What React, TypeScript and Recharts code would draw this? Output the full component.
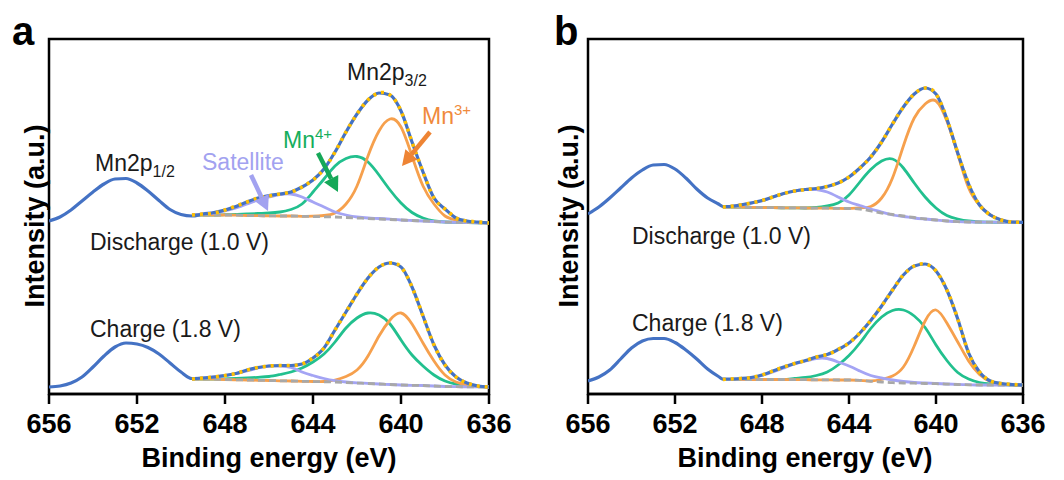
import React from 'react';
import { LineChart, Line, XAxis, YAxis, ReferenceArea } from 'recharts';

const FONT = 'Arial, "Liberation Sans", sans-serif';

// x axis
const energyTicks = [656, 652, 648, 644, 640, 636];

// binding energy grids (eV)
const rawEnergyA = [
  656, 655.5, 655, 654.5, 654, 653.5, 653, 652.5, 652, 651.5, 651, 650.5, 650,
  649.5, 649, 648.5, 648, 647.5, 647, 646.5, 646, 645.5, 645, 644.5, 644, 643.5, 643,
  642.5, 642, 641.5, 641, 640.5, 640, 639.5, 639, 638.5, 638, 637.5, 637, 636.5, 636,
];
const fitEnergyA = [
  649.5, 649, 648.5, 648, 647.5, 647, 646.5, 646, 645.5, 645, 644.5, 644, 643.5, 643,
  642.5, 642, 641.5, 641, 640.5, 640, 639.5, 639, 638.5, 638, 637.5, 637, 636.5, 636,
];
const rawEnergyB = [
  656, 655.5, 655, 654.5, 654, 653.5, 653, 652.5, 652, 651.5, 651, 650.5, 650,
  649.8, 649.5, 649, 648.5, 648, 647.5, 647, 646.5, 646, 645.5, 645, 644.5, 644, 643.5, 643,
  642.5, 642, 641.5, 641, 640.5, 640, 639.5, 639, 638.5, 638, 637.5, 637, 636.5, 636,
];
const fitEnergyB = [
  649.8, 649.5, 649, 648.5, 648, 647.5, 647, 646.5, 646, 645.5, 645, 644.5, 644, 643.5, 643,
  642.5, 642, 641.5, 641, 640.5, 640, 639.5, 639, 638.5, 638, 637.5, 637, 636.5, 636,
];

// panel a, discharge (1.0 V) - stacked on top
const aDisRaw = [
  173, 177, 184, 193, 202, 210, 215, 215.5, 211, 203, 193.5, 184.5, 179.5,
  178, 180, 181.5, 184, 187.5, 192, 196, 198.5, 200, 202, 207, 214, 225, 242,
  262, 280, 294, 301, 299, 283, 252, 222, 196, 185, 176, 173, 172, 171,
];
const aDisEnv = [179, 180, 181, 184, 188, 192, 196, 198, 200, 202, 207, 214, 225, 242, 262, 280, 294, 301, 299, 283, 252, 222, 196, 185, 176, 173, 172, 171];
const aDisMn4 = [179, 179, 179, 179.3, 179.6, 180, 180.5, 181, 182, 184.5, 190, 202, 215, 228, 235.5, 237.5, 232, 219, 204, 191, 181.5, 176, 173, 172, 171.7, 171.5, 171.2, 171];
const aDisMn3 = [179, 179, 179, 179, 178.8, 178.5, 178.3, 178.2, 178, 178, 177.7, 177.8, 178.5, 181, 190, 208, 238, 263, 275, 267, 238, 208, 190, 178, 174, 172, 171.5, 171];
const aDisSat = [179, 180, 181, 183, 186, 190, 194, 197, 199.5, 200, 197, 192, 187, 182, 179, 177, 176, 175.5, 174.8, 174, 173.5, 173, 172.5, 172, 171.7, 171.5, 171.2, 171];
const aDisBase = [179, 179, 179, 179, 178.8, 178.5, 178.3, 178.2, 178, 178, 177.7, 177.5, 177.2, 177, 176.5, 176, 175.5, 175, 174.5, 174, 173.5, 173, 172.5, 172, 171.7, 171.5, 171.2, 171];

// panel a, charge (1.8 V)
const aChaRaw = [
  7, 8, 11, 17, 27, 38, 47, 51, 50, 46.5, 40, 31, 22,
  15.5, 16, 17, 18.5, 20.5, 24, 26.5, 28, 28.5, 28.5, 30, 36, 46, 64,
  82, 100, 116, 127, 131, 127, 107, 78, 49, 29, 17, 11, 8, 7,
];
const aChaEnv = [15, 16, 17, 18.5, 20.5, 24, 26.5, 28, 28.5, 28.5, 30, 36, 46, 64, 82, 100, 116, 127, 131, 127, 107, 78, 49, 29, 17, 11, 8, 7];
const aChaMn4 = [15, 15, 15, 15.2, 15.5, 16, 16.7, 17.5, 19.5, 22, 26, 32, 40, 52, 66, 76, 81, 79, 70, 54, 39, 28, 19, 13, 10, 8.5, 7.5, 7];
const aChaMn3 = [15, 15, 14.8, 14.5, 14.2, 14, 13.7, 13.5, 13.2, 13, 12.7, 12.5, 12.5, 14, 17.5, 24, 38, 58, 74, 81, 70, 51, 33, 19, 12, 9, 7.5, 7];
const aChaSat = [15, 16, 17, 18.5, 20.5, 23, 26, 28, 28, 26.5, 22, 18.5, 15.5, 13.3, 12, 11.2, 10.6, 10, 9.5, 9, 8.7, 8.5, 8, 7.5, 7.3, 7.2, 7.1, 7];
const aChaBase = [15, 15, 14.8, 14.5, 14.2, 14, 13.7, 13.5, 13.2, 13, 12.7, 12.5, 12.2, 12, 11.5, 11, 10.5, 10, 9.5, 9, 8.7, 8.5, 8, 7.5, 7.3, 7.2, 7.1, 7];

// panel b, discharge (1.0 V)
const bDisEnv = [187, 187.5, 189, 191, 193.5, 197, 200.5, 203, 204.5, 205.5, 207.5, 211, 217, 226, 237, 252, 270, 287, 300, 306, 300, 275, 241, 210, 189, 179, 174, 172, 171.7];
const bDisRaw = [
  180, 187, 196, 206, 216, 224, 229, 229.5, 225, 216, 205, 196, 190,
  187.5, 187.5, 189, 191, 193.5, 197, 200.5, 203, 204.5, 205.5, 207.5, 211, 217, 226, 237,
  252, 270, 287, 300, 306, 300, 275, 241, 210, 189, 179, 174, 172, 171.7,
];
const bDisMn4 = [187, 187, 186.8, 186.7, 186.5, 186.4, 186.2, 186.1, 186, 186.5, 188, 191, 199, 212, 224.5, 233, 235, 226, 211, 197, 186, 178.5, 175, 173, 172, 171.8, 171.7, 171.7, 171.7];
const bDisMn3 = [187, 187, 186.8, 186.7, 186.5, 186.4, 186.2, 186.1, 186, 185.9, 185.8, 185.6, 185.5, 186, 187.5, 196, 216, 248, 276, 290, 293, 273, 240, 206, 189, 179, 174, 172, 171.7];
const bDisSat = [187, 187.5, 189, 191, 193, 197, 200.5, 203, 204.5, 204.5, 202, 197, 192, 188.5, 185, 182, 179, 177.5, 176, 175, 174, 173, 172.3, 172, 172, 171.8, 171.7, 171.7, 171.7];
const bDisBase = [187, 187, 186.8, 186.7, 186.5, 186.4, 186.2, 186.1, 186, 185.9, 185.8, 185.6, 185.5, 185, 183, 181, 179.5, 178, 176.5, 175, 174, 173, 172.3, 172, 172, 171.8, 171.7, 171.7, 171.7];

// panel b, charge (1.8 V)
const bChaEnv = [14.5, 15, 15.5, 16.5, 19, 23, 27, 30.5, 33.5, 37, 39.5, 44.5, 51, 61, 73.5, 88, 104, 119, 128, 130, 123, 104, 75, 41, 22, 13, 10.5, 9.5, 9];
const bChaRaw = [
  13, 17, 24, 35, 46, 53, 55.5, 55.5, 51.5, 44, 35, 25, 17.5,
  15, 15, 15.5, 16.5, 19, 23, 27, 30.5, 33.5, 37, 39.5, 44.5, 51, 61, 73.5,
  88, 104, 119, 128, 130, 123, 104, 75, 41, 22, 13, 10.5, 9.5, 9,
];
const bChaMn4 = [14.5, 14.5, 14.5, 14.5, 14.5, 14.5, 14.5, 15.5, 16.5, 18.5, 22, 29, 38.5, 51, 65.5, 77, 83.5, 84, 78, 66.5, 49, 33.5, 21.5, 15, 11.5, 10, 9.3, 9, 9];
const bChaMn3 = [14.5, 14.5, 14.5, 14.5, 14.5, 14.5, 14.5, 14.4, 14.3, 14.2, 14.1, 14, 14, 13.7, 13, 14.5, 18, 27, 48, 73, 84, 71, 52, 33, 19.5, 12.5, 10, 9.3, 9];
const bChaSat = [14.5, 14.7, 15, 16, 18.5, 22, 26, 30, 33, 35.5, 35.5, 32, 28, 23, 18.5, 16, 14, 12.5, 11.5, 11, 10.5, 10, 9.6, 9.3, 9, 9, 9, 9, 9];
const bChaBase = [14.5, 14.5, 14.5, 14.5, 14.5, 14.5, 14.5, 14.4, 14.3, 14.2, 14.1, 14, 14, 13.7, 12.7, 12, 11.3, 11, 10.8, 10.5, 10.3, 9.9, 9.5, 9.2, 9, 9, 9, 9, 9];

const STYLES: Record<string, any> = {
  mn4: { stroke: '#22C08E', strokeWidth: 2.8 },
  mn3: { stroke: '#F6A04D', strokeWidth: 2.8 },
  sat: { stroke: '#A4A4F4', strokeWidth: 2.8 },
  base: { stroke: '#A8A8A8', strokeWidth: 2.8, strokeDasharray: '7 4' },
  raw: { stroke: '#4472C4', strokeWidth: 3.2 },
  env: { stroke: '#FFC000', strokeWidth: 3.6, strokeDasharray: '3 5' },
};

const pts = (e: number[], v: number[]) => e.map((x, i) => ({ e: x, v: v[i] }));

type Spectrum = { rawE: number[]; fitE: number[]; raw: number[]; env: number[]; mn4: number[]; mn3: number[]; sat: number[]; base: number[] };

const panelA: Spectrum[] = [
  { rawE: rawEnergyA, fitE: fitEnergyA, raw: aDisRaw, env: aDisEnv, mn4: aDisMn4, mn3: aDisMn3, sat: aDisSat, base: aDisBase },
  { rawE: rawEnergyA, fitE: fitEnergyA, raw: aChaRaw, env: aChaEnv, mn4: aChaMn4, mn3: aChaMn3, sat: aChaSat, base: aChaBase },
];
const panelB: Spectrum[] = [
  { rawE: rawEnergyB, fitE: fitEnergyB, raw: bDisRaw, env: bDisEnv, mn4: bDisMn4, mn3: bDisMn3, sat: bDisSat, base: bDisBase },
  { rawE: rawEnergyB, fitE: fitEnergyB, raw: bChaRaw, env: bChaEnv, mn4: bChaMn4, mn3: bChaMn3, sat: bChaSat, base: bChaBase },
];

function Panel({ left, width, marginLeft, spectra }: { left: number; width: number; marginLeft: number; spectra: Spectrum[] }) {
  const lines: React.ReactNode[] = [];
  spectra.forEach((s, si) => {
    (['mn4', 'mn3', 'sat', 'base'] as const).forEach((k) => {
      lines.push(
        <Line key={`${si}-${k}`} data={pts(s.fitE, s[k])} dataKey="v" type="natural" dot={false} activeDot={false}
          isAnimationActive={false} {...STYLES[k]} />
      );
    });
    // measured spectrum: monotone keeps the flat part free of spline ringing
    lines.push(
      <Line key={`${si}-raw`} data={pts(s.rawE, s.raw)} dataKey="v" type="monotone" dot={false} activeDot={false}
        isAnimationActive={false} {...STYLES.raw} />
    );
    lines.push(
      <Line key={`${si}-env`} data={pts(s.fitE, s.env)} dataKey="v" type="natural" dot={false} activeDot={false}
        isAnimationActive={false} {...STYLES.env} />
    );
  });

  return (
    <div style={{ position: 'absolute', left, top: 0 }}>
      <LineChart width={width} height={480} margin={{ top: 39, right: 41, bottom: 46, left: marginLeft }}>
        <XAxis type="number" dataKey="e" domain={[636, 656]} reversed allowDataOverflow ticks={energyTicks} interval={0}
          height={40} tickSize={10} tickMargin={10} axisLine={{ stroke: '#000', strokeWidth: 2.5 }}
          tickLine={{ stroke: '#000', strokeWidth: 2.5 }}
          tick={{ fill: '#000', fontSize: 27, fontWeight: 700, fontFamily: FONT }} />
        <YAxis domain={[0, 355]} width={0} hide allowDataOverflow />
        <ReferenceArea x1={656} x2={636} y1={0} y2={355} fill="none" stroke="#000" strokeWidth={2.5} ifOverflow="visible" />
        {lines}
      </LineChart>
    </div>
  );
}

function Arrow({ x1, y1, x2, y2, color }: { x1: number; y1: number; x2: number; y2: number; color: string }) {
  const a = Math.atan2(y2 - y1, x2 - x1);
  const len = 15;
  const half = 8;
  const bx = x2 - len * Math.cos(a);
  const by = y2 - len * Math.sin(a);
  const p1 = `${bx + half * Math.sin(a)},${by - half * Math.cos(a)}`;
  const p2 = `${bx - half * Math.sin(a)},${by + half * Math.cos(a)}`;
  return (
    <g>
      <line x1={x1} y1={y1} x2={bx} y2={by} stroke={color} strokeWidth={4.5} />
      <polygon points={`${x2},${y2} ${p1} ${p2}`} fill={color} />
    </g>
  );
}

export default function App() {
  const label = { fontFamily: FONT, fontSize: 23, fill: '#1a1a1a' };
  const title = { fontFamily: FONT, fontSize: 27, fontWeight: 700, fill: '#000' };
  return (
    <div style={{ position: 'absolute', left: 0, top: 0, width: 1064, height: 480, background: '#fff' }}>
      <Panel left={0} width={530} marginLeft={49} spectra={panelA} />
      <Panel left={530} width={534} marginLeft={58} spectra={panelB} />
      <svg width={1064} height={480} style={{ position: 'absolute', left: 0, top: 0, pointerEvents: 'none' }}>
        {/* panel letters */}
        <text x={12} y={45} style={{ ...title, fontSize: 40 }}>a</text>
        <text x={554} y={45} style={{ ...title, fontSize: 40 }}>b</text>

        {/* axis titles */}
        <text x={269} y={467} textAnchor="middle" style={title}>Binding energy (eV)</text>
        <text x={805} y={467} textAnchor="middle" style={title}>Binding energy (eV)</text>
        <text x={44} y={216} textAnchor="middle" transform="rotate(-90 44 216)" style={title}>Intensity (a.u.)</text>
        <text x={578} y={216} textAnchor="middle" transform="rotate(-90 578 216)" style={title}>Intensity (a.u.)</text>

        {/* panel a annotations */}
        <text x={95} y={171} style={label}>Mn2p<tspan fontSize={16} dy={6}>1/2</tspan></text>
        <text x={347} y={80} style={label}>Mn2p<tspan fontSize={16} dy={6}>3/2</tspan></text>
        <text x={422} y={124} style={{ ...label, fill: '#F08A3C' }}>Mn<tspan fontSize={15} dy={-9}>3+</tspan></text>
        <text x={283} y={148} style={{ ...label, fill: '#16AE5C' }}>Mn<tspan fontSize={15} dy={-9}>4+</tspan></text>
        <text x={202} y={170} style={{ ...label, fill: '#A2A2F0' }}>Satellite</text>
        <Arrow x1={251} y1={175} x2={268} y2={211} color="#A2A2F0" />
        <Arrow x1={318} y1={153} x2={338} y2={192} color="#16A858" />
        <Arrow x1={430} y1={132} x2={402} y2={166} color="#EE8434" />
        <text x={90} y={250} style={label}>Discharge (1.0 V)</text>
        <text x={90} y={337} style={label}>Charge (1.8 V)</text>

        {/* panel b annotations */}
        <text x={632} y={244} style={label}>Discharge (1.0 V)</text>
        <text x={632} y={331} style={label}>Charge (1.8 V)</text>
      </svg>
    </div>
  );
}
